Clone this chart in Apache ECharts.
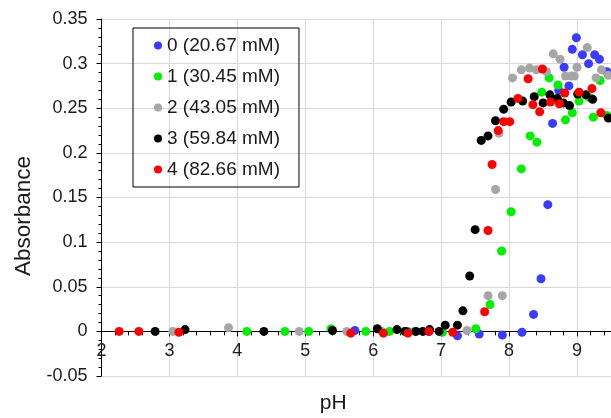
<!DOCTYPE html>
<html>
<head>
<meta charset="utf-8">
<script src="https://cdn.jsdelivr.net/npm/echarts@6/dist/echarts.min.js"></script>
<style>
  html, body { margin: 0; padding: 0; background: #fff; }
  #chart { width: 611px; height: 418px; }
</style>
</head>
<body>
<div id="chart"></div>
<script>
// Absorbance versus pH for five concentrations
const seriesNames = ['0 (20.67 mM)', '1 (30.45 mM)', '2 (43.05 mM)', '3 (59.84 mM)', '4 (82.66 mM)'];
const seriesColors = ['#3b3bff', '#00f000', '#a6a6a6', '#000000', '#ff0000'];

const ph0 = [5.73, 6.50, 6.82, 7.24, 7.56, 7.90, 8.19, 8.36, 8.47, 8.57, 8.64, 8.73, 8.81, 8.88, 8.93, 8.99, 9.08, 9.17, 9.26, 9.33, 9.44];
const abs0 = [0.001, 0, 0, -0.005, -0.003, -0.004, -0.001, 0.019, 0.059, 0.142, 0.233, 0.270, 0.296, 0.275, 0.316, 0.329, 0.310, 0.300, 0.310, 0.305, 0.291];

const ph1 = [4.14, 4.70, 5.05, 5.38, 5.89, 6.24, 6.46, 6.61, 7.02, 7.51, 7.72, 7.89, 8.03, 8.18, 8.31, 8.41, 8.48, 8.59, 8.72, 8.83, 8.93, 9.03, 9.18, 9.24, 9.34, 9.44];
const abs1 = [0, 0, 0, 0.003, 0, 0, 0, 0, -0.001, 0.003, 0.030, 0.090, 0.134, 0.182, 0.219, 0.212, 0.268, 0.284, 0.276, 0.237, 0.245, 0.258, 0.262, 0.240, 0.281, 0.242];

const ph2 = [3.05, 3.87, 4.91, 5.61, 6.13, 7.38, 7.69, 7.80, 7.85, 7.90, 8.05, 8.18, 8.30, 8.40, 8.55, 8.65, 8.75, 8.83, 8.91, 8.96, 9.00, 9.15, 9.28, 9.36, 9.46];
const abs2 = [0, 0.004, 0, 0, 0, 0.001, 0.040, 0.159, 0.222, 0.040, 0.284, 0.293, 0.295, 0.293, 0.291, 0.311, 0.305, 0.286, 0.286, 0.286, 0.296, 0.318, 0.284, 0.293, 0.287];

const ph3 = [2.79, 3.23, 4.39, 5.40, 6.06, 6.35, 6.47, 6.63, 6.73, 6.83, 6.97, 7.06, 7.24, 7.32, 7.42, 7.50, 7.59, 7.69, 7.80, 7.92, 8.03, 8.20, 8.37, 8.50, 8.60, 8.71, 8.80, 8.89, 9.01, 9.13, 9.23, 9.46];
const abs3 = [0, 0.002, 0, 0.001, 0.003, 0.002, 0, 0, 0, 0.002, 0, 0.007, 0.007, 0.023, 0.062, 0.114, 0.214, 0.219, 0.236, 0.249, 0.257, 0.258, 0.263, 0.256, 0.265, 0.261, 0.256, 0.253, 0.266, 0.265, 0.260, 0.239];

const ph4 = [2.26, 2.55, 3.14, 5.67, 6.15, 6.51, 6.82, 7.17, 7.64, 7.69, 7.75, 7.84, 7.92, 8.01, 8.13, 8.28, 8.35, 8.45, 8.49, 8.61, 8.74, 8.82, 9.03, 9.22, 9.35];
const abs4 = [0, 0, -0.001, -0.002, -0.002, -0.002, 0, -0.001, 0.022, 0.113, 0.187, 0.225, 0.235, 0.235, 0.261, 0.283, 0.254, 0.246, 0.294, 0.257, 0.255, 0.267, 0.268, 0.272, 0.245];

const phLists = [ph0, ph1, ph2, ph3, ph4];
const absLists = [abs0, abs1, abs2, abs3, abs4];

const FONT = "'Liberation Sans', Arial, sans-serif";
const TEXT_COLOR = '#1a1a1a';

const series = seriesNames.map((name, i) => ({
  name: name,
  type: 'scatter',
  symbol: 'circle',
  symbolSize: 9,
  itemStyle: { color: seriesColors[i], opacity: 1 },
  data: phLists[i].map((x, k) => [x, absLists[i][k]]),
  animation: false
}));

const chart = echarts.init(document.getElementById('chart'), null, { renderer: 'canvas' });
chart.setOption({
  backgroundColor: '#ffffff',
  animation: false,
  grid: { left: 101.5, right: 0, top: 19, bottom: 42, containLabel: false, outerBoundsMode: 'none' },
  legend: {
    orient: 'vertical',
    left: 133,
    top: 28,
    padding: [8, 19, 8, 21],
    borderColor: '#000',
    borderWidth: 1,
    backgroundColor: 'transparent',
    icon: 'circle',
    itemWidth: 8,
    itemHeight: 8,
    itemGap: 12,
    textStyle: { fontFamily: FONT, fontSize: 19, color: TEXT_COLOR },
    data: seriesNames
  },
  xAxis: {
    type: 'value',
    min: 2,
    max: 9.5,
    interval: 1,
    name: 'pH',
    nameLocation: 'middle',
    nameGap: 17,
    nameTextStyle: { fontFamily: FONT, fontSize: 21, color: TEXT_COLOR, padding: [0, 46, 0, 0] },
    axisLine: { show: true, onZero: true, lineStyle: { color: '#000', width: 1 } },
    axisTick: { show: true, inside: false, length: 5, lineStyle: { color: '#000' } },
    minorTick: { show: true, splitNumber: 5, length: 4, lineStyle: { color: '#000' } },
    axisLabel: {
      fontFamily: FONT, fontSize: 18, color: TEXT_COLOR, margin: -34,
      formatter: v => (Number.isInteger(v) ? String(v) : '')
    },
    splitLine: { show: true, lineStyle: { color: '#d9d9d9', width: 1 } }
  },
  yAxis: {
    type: 'value',
    min: -0.05,
    max: 0.35,
    interval: 0.05,
    name: 'Absorbance',
    nameLocation: 'middle',
    nameGap: 65,
    nameTextStyle: { fontFamily: FONT, fontSize: 22.5, color: TEXT_COLOR, padding: [0, 37, 0, 0] },
    axisLine: { show: true, onZero: false, lineStyle: { color: '#000', width: 1 } },
    axisTick: { show: true, inside: false, length: 5, lineStyle: { color: '#000' } },
    minorTick: { show: true, splitNumber: 5, length: 3, lineStyle: { color: '#000' } },
    axisLabel: {
      fontFamily: FONT, fontSize: 18, color: TEXT_COLOR, margin: 14,
      formatter: v => String(Math.round(v * 100) / 100)
    },
    splitLine: { show: true, lineStyle: { color: '#d9d9d9', width: 1 } }
  },
  series: series
});
</script>
</body>
</html>
